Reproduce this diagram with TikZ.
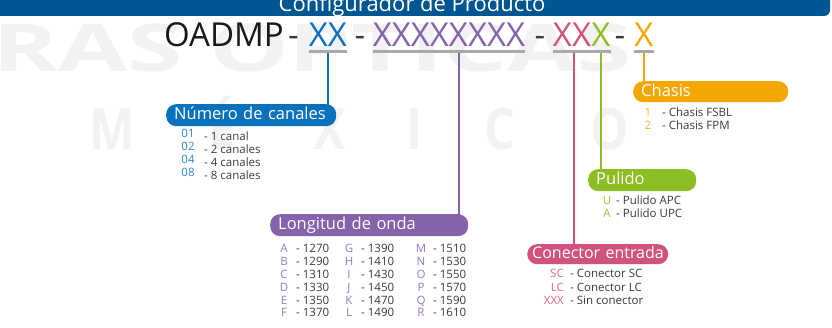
\documentclass[tikz,border=0pt]{standalone}
\usepackage{fontspec}
\setmainfont{Open Sans}
\usetikzlibrary{backgrounds}
\definecolor{cnavy}{HTML}{005690}
\definecolor{cblue}{HTML}{0A72BD}
\definecolor{cpur}{HTML}{8463AA}
\definecolor{cpink}{HTML}{D2527F}
\definecolor{cgreen}{HTML}{8DBE24}
\definecolor{corange}{HTML}{F4A700}
\definecolor{ctext}{HTML}{3A3A3A}
\definecolor{cline}{HTML}{A9A9A9}
\hyphenpenalty=10000
\begin{document}
\begin{tikzpicture}[x=1pt,y=-1pt,
  codepart/.style={anchor=base,inner xsep=1pt,inner ysep=4pt,font=\fontsize{33}{33}\selectfont},
  uline/.style={draw=cline,line width=3pt},
  wire/.style={draw=#1,line width=2pt},
  pill/.style={fill=#1,rounded corners=10pt,anchor=north west,text=white,font=\fontsize{16.5}{17}\selectfont,inner xsep=8pt,inner ysep=0pt,minimum height=22pt,text height=10pt,text depth=1pt,align=left},
  keytxt/.style={text=#1,anchor=base,inner sep=0pt,font=\fontsize{11.5}{12}\selectfont},
  desctxt/.style={text=ctext,anchor=base west,inner sep=0pt,font=\fontsize{11.5}{12}\selectfont},
  wmark/.style={text=black!5,inner sep=0pt,anchor=base}]
\useasboundingbox (0,0) rectangle (832,328);
% banner
\fill[cnavy,rounded corners=6pt] (-10,-20) rectangle (830,16);
\node[text=white,anchor=base,font=\fontsize{22}{22}\selectfont] (banner) at (412,12) {Configurador de Producto};
% product code
\node[codepart,text=black!90] (oadmp) at (224,47) {OADMP};
\node[codepart,text=ctext] (d1) at (293.5,47) {-};
\node[codepart,text=cblue] (xx) at (328,47) {XX};
\node[codepart,text=ctext] (d2) at (360,47) {-};
\node[codepart,text=cpur] (xw) at (449,47) {XXXXXXXX};
\node[codepart,text=ctext] (d3) at (540,47) {-};
\node[codepart,text=cpink] (xp) at (572,47) {XX};
\node[codepart,text=cgreen] (xg) at (601,47) {X};
\node[codepart,text=ctext] (d4) at (620,47) {-};
\node[codepart,text=corange] (xo) at (644,47) {X};
\foreach \n in {xx,xw,xp,xg,xo}
  \draw[uline] ([xshift=1pt]\n.south west) -- ([xshift=-1pt]\n.south east);
% groups
\node[pill=cblue,text width=154pt] (ncan) at (166,104) {Número~de~canales};
\node[pill=cpur,text width=182pt] (lw) at (270,214) {Longitud~de~onda};
\node[pill=cpink,text width=131pt,inner xsep=5pt,minimum height=20pt,font=\fontsize{16}{17}\selectfont] (cin) at (527,244) {\mbox{Conector entrada}};
\node[pill=cgreen,text width=92pt] (pul) at (588,169) {Pulido};
\node[pill=corange,text width=139pt,minimum height=21pt] (cha) at (633,81) {Chasis};
% options
\foreach \k/\t [count=\i from 0] in {01/1 canal,02/2 canales,04/4 canales,08/8 canales}{
  \node[keytxt=cblue!85] (nk\i) at (188,138+13*\i) {\k};
  \node[desctxt] (nd\i) at (204,141+13*\i) {- \t};
}
\foreach \l [count=\i from 0] in {A,B,C,D,E,F,G,H,I,J,K,L,M,N,O,P,Q,R}{
  \pgfmathtruncatemacro\col{\i/6}
  \pgfmathtruncatemacro\row{\i-6*\col}
  \pgfmathtruncatemacro\nm{1270+20*\i}
  \pgfmathsetmacro\xl{{284,349,421}[\col]}
  \node[keytxt=cpur!85] (lk\i) at (\xl,253+12.8*\row) {\l};
  \node[desctxt] (ld\i) at (\xl+12,253+12.8*\row) {- \nm};
}
\foreach \k/\t [count=\i from 0] in {SC/Conector SC,LC/Conector LC,XXX/Sin conector}{
  \node[keytxt=cpink!85,anchor=base east] (ck\i) at (564,278+13.5*\i) {\k};
  \node[desctxt] (cd\i) at (570,278+13.5*\i) {- \t};
}
\foreach \k/\t [count=\i from 0] in {U/Pulido APC,A/Pulido UPC}{
  \node[keytxt=cgreen!90] (pk\i) at (607,205+12.5*\i) {\k};
  \node[desctxt] (pd\i) at (616,205+12.5*\i) {- \t};
}
\foreach \k/\t [count=\i from 0] in {1/Chasis FSBL,2/Chasis FPM}{
  \node[keytxt=corange!85] (hk\i) at (648,117+13*\i) {\k};
  \node[desctxt] (hd\i) at (662,117+13*\i) {- \t};
}
\begin{scope}[on background layer]
  % watermark
  \node[wmark,anchor=base east,xscale=1.52,font=\fontsize{66}{66}\selectfont\bfseries] (wm) at (632,72) {RAS OPTICAS};
  \foreach \l/\x [count=\i] in {M/112,É/222,X/330,I/415,C/500,O/610}
    \node[wmark,xscale=0.85,font=\fontsize{57}{57}\selectfont\bfseries] (wmb\i) at (\x,150) {\l};
  % connectors
  \draw[wire=cblue] (xx.south) -- (xx.south |- ncan.center);
  \draw[wire=cpur] ([xshift=10pt]xw.south) -- ([xshift=10pt]xw.south |- lw.center);
  \draw[wire=cpink] ([xshift=2pt]xp.south) -- ([xshift=2pt]xp.south |- cin.center);
  \draw[wire=cgreen] (xg.south) -- (xg.south |- pul.center);
  \draw[wire=corange] (xo.south) -- (xo.south |- cha.center);
\end{scope}
\end{tikzpicture}
\end{document}
